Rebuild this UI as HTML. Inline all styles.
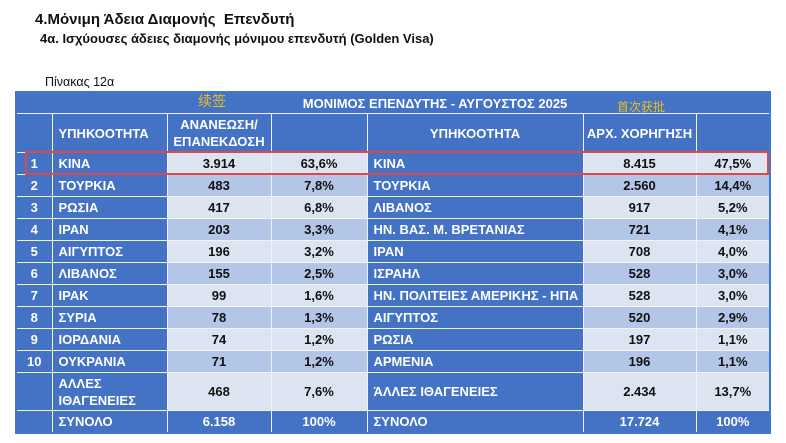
<!DOCTYPE html>
<html><head><meta charset="utf-8"><style>
body{margin:0;width:786px;height:443px;background:#fff;position:relative;overflow:hidden;font-family:"Liberation Sans","DejaVu Sans",sans-serif;}
.t1{position:absolute;left:35px;top:11px;font-size:15px;font-weight:bold;color:#111;}
.t2{position:absolute;left:40px;top:31px;font-size:13px;font-weight:bold;color:#111;}
.t3{position:absolute;left:45px;top:75px;font-size:12.5px;color:#111;}
table{position:absolute;left:15px;top:91px;border-collapse:collapse;table-layout:fixed;width:754px;font-size:13px;font-weight:bold;border:2px solid #3a7ad0;}
td{border:1.5px solid #f0f4fa;padding:0 6px;height:21px;line-height:15px;color:#fff;background:#4472C4;white-space:nowrap;}
td.n{text-align:center;}
td.c{text-align:center;padding:0 2px;}
td.l1{background:#DCE4F2;color:#111;text-align:center;}
td.l2{background:#B4C6E7;color:#111;text-align:center;}
tr.h td{height:38px;}
tr.o td{height:37px;}
.red{position:absolute;z-index:5;left:25px;top:151px;width:740px;height:20px;border:2px solid #e04848;}
.cn{color:#e8c020;font-weight:normal;font-family:"Noto Sans CJK SC",sans-serif;}
</style></head><body>
<div class="t1">4.Μόνιμη Άδεια Διαμονής&nbsp; Επενδυτή</div>
<div class="t2">4α. Ισχύουσες άδειες διαμονής μόνιμου επενδυτή (Golden Visa)</div>
<div class="t3">Πίνακας 12α</div>
<table>
<colgroup><col style="width:36px"><col style="width:115px"><col style="width:104px"><col style="width:96px"><col style="width:216px"><col style="width:113px"><col style="width:74px"></colgroup>
<tr><td colspan="7" style="height:20px;position:relative;text-align:center;padding-left:90px"><span class="cn" style="position:absolute;left:181px;top:1px;font-size:14px">续签</span>ΜΟΝΙΜΟΣ ΕΠΕΝΔΥΤΗΣ - ΑΥΓΟΥΣΤΟΣ 2025<span class="cn" style="position:absolute;left:600px;top:6px;font-size:12px">首次获批</span></td></tr>
<tr class="h"><td></td><td>ΥΠΗΚΟΟΤΗΤΑ</td><td class="c" style="line-height:17px">ΑΝΑΝΕΩΣΗ/<br>ΕΠΑΝΕΚΔΟΣΗ</td><td></td><td class="c">ΥΠΗΚΟΟΤΗΤΑ</td><td class="c">ΑΡΧ. ΧΟΡΗΓΗΣΗ</td><td></td></tr>
<tr><td class="n">1</td><td>ΚΙΝΑ</td><td class="l1">3.914</td><td class="l1">63,6%</td><td>ΚΙΝΑ</td><td class="l1">8.415</td><td class="l1">47,5%</td></tr>
<tr><td class="n">2</td><td>ΤΟΥΡΚΙΑ</td><td class="l2">483</td><td class="l2">7,8%</td><td>ΤΟΥΡΚΙΑ</td><td class="l2">2.560</td><td class="l2">14,4%</td></tr>
<tr><td class="n">3</td><td>ΡΩΣΙΑ</td><td class="l1">417</td><td class="l1">6,8%</td><td>ΛΙΒΑΝΟΣ</td><td class="l1">917</td><td class="l1">5,2%</td></tr>
<tr><td class="n">4</td><td>ΙΡΑΝ</td><td class="l2">203</td><td class="l2">3,3%</td><td>ΗΝ. ΒΑΣ. Μ. ΒΡΕΤΑΝΙΑΣ</td><td class="l2">721</td><td class="l2">4,1%</td></tr>
<tr><td class="n">5</td><td>ΑΙΓΥΠΤΟΣ</td><td class="l1">196</td><td class="l1">3,2%</td><td>ΙΡΑΝ</td><td class="l1">708</td><td class="l1">4,0%</td></tr>
<tr><td class="n">6</td><td>ΛΙΒΑΝΟΣ</td><td class="l2">155</td><td class="l2">2,5%</td><td>ΙΣΡΑΗΛ</td><td class="l2">528</td><td class="l2">3,0%</td></tr>
<tr><td class="n">7</td><td>ΙΡΑΚ</td><td class="l1">99</td><td class="l1">1,6%</td><td>ΗΝ. ΠΟΛΙΤΕΙΕΣ ΑΜΕΡΙΚΗΣ - ΗΠΑ</td><td class="l1">528</td><td class="l1">3,0%</td></tr>
<tr><td class="n">8</td><td>ΣΥΡΙΑ</td><td class="l2">78</td><td class="l2">1,3%</td><td>ΑΙΓΥΠΤΟΣ</td><td class="l2">520</td><td class="l2">2,9%</td></tr>
<tr><td class="n">9</td><td>ΙΟΡΔΑΝΙΑ</td><td class="l1">74</td><td class="l1">1,2%</td><td>ΡΩΣΙΑ</td><td class="l1">197</td><td class="l1">1,1%</td></tr>
<tr><td class="n">10</td><td>ΟΥΚΡΑΝΙΑ</td><td class="l2">71</td><td class="l2">1,2%</td><td>ΑΡΜΕΝΙΑ</td><td class="l2">196</td><td class="l2">1,1%</td></tr>
<tr class="o"><td></td><td style="line-height:17px">ΑΛΛΕΣ<br>ΙΘΑΓΕΝΕΙΕΣ</td><td class="l1">468</td><td class="l1">7,6%</td><td>ΆΛΛΕΣ ΙΘΑΓΕΝΕΙΕΣ</td><td class="l1">2.434</td><td class="l1">13,7%</td></tr>
<tr><td></td><td>ΣΥΝΟΛΟ</td><td class="c">6.158</td><td class="c">100%</td><td>ΣΥΝΟΛΟ</td><td class="c">17.724</td><td class="c">100%</td></tr>
</table>
<div class="red"></div>
</body></html>
